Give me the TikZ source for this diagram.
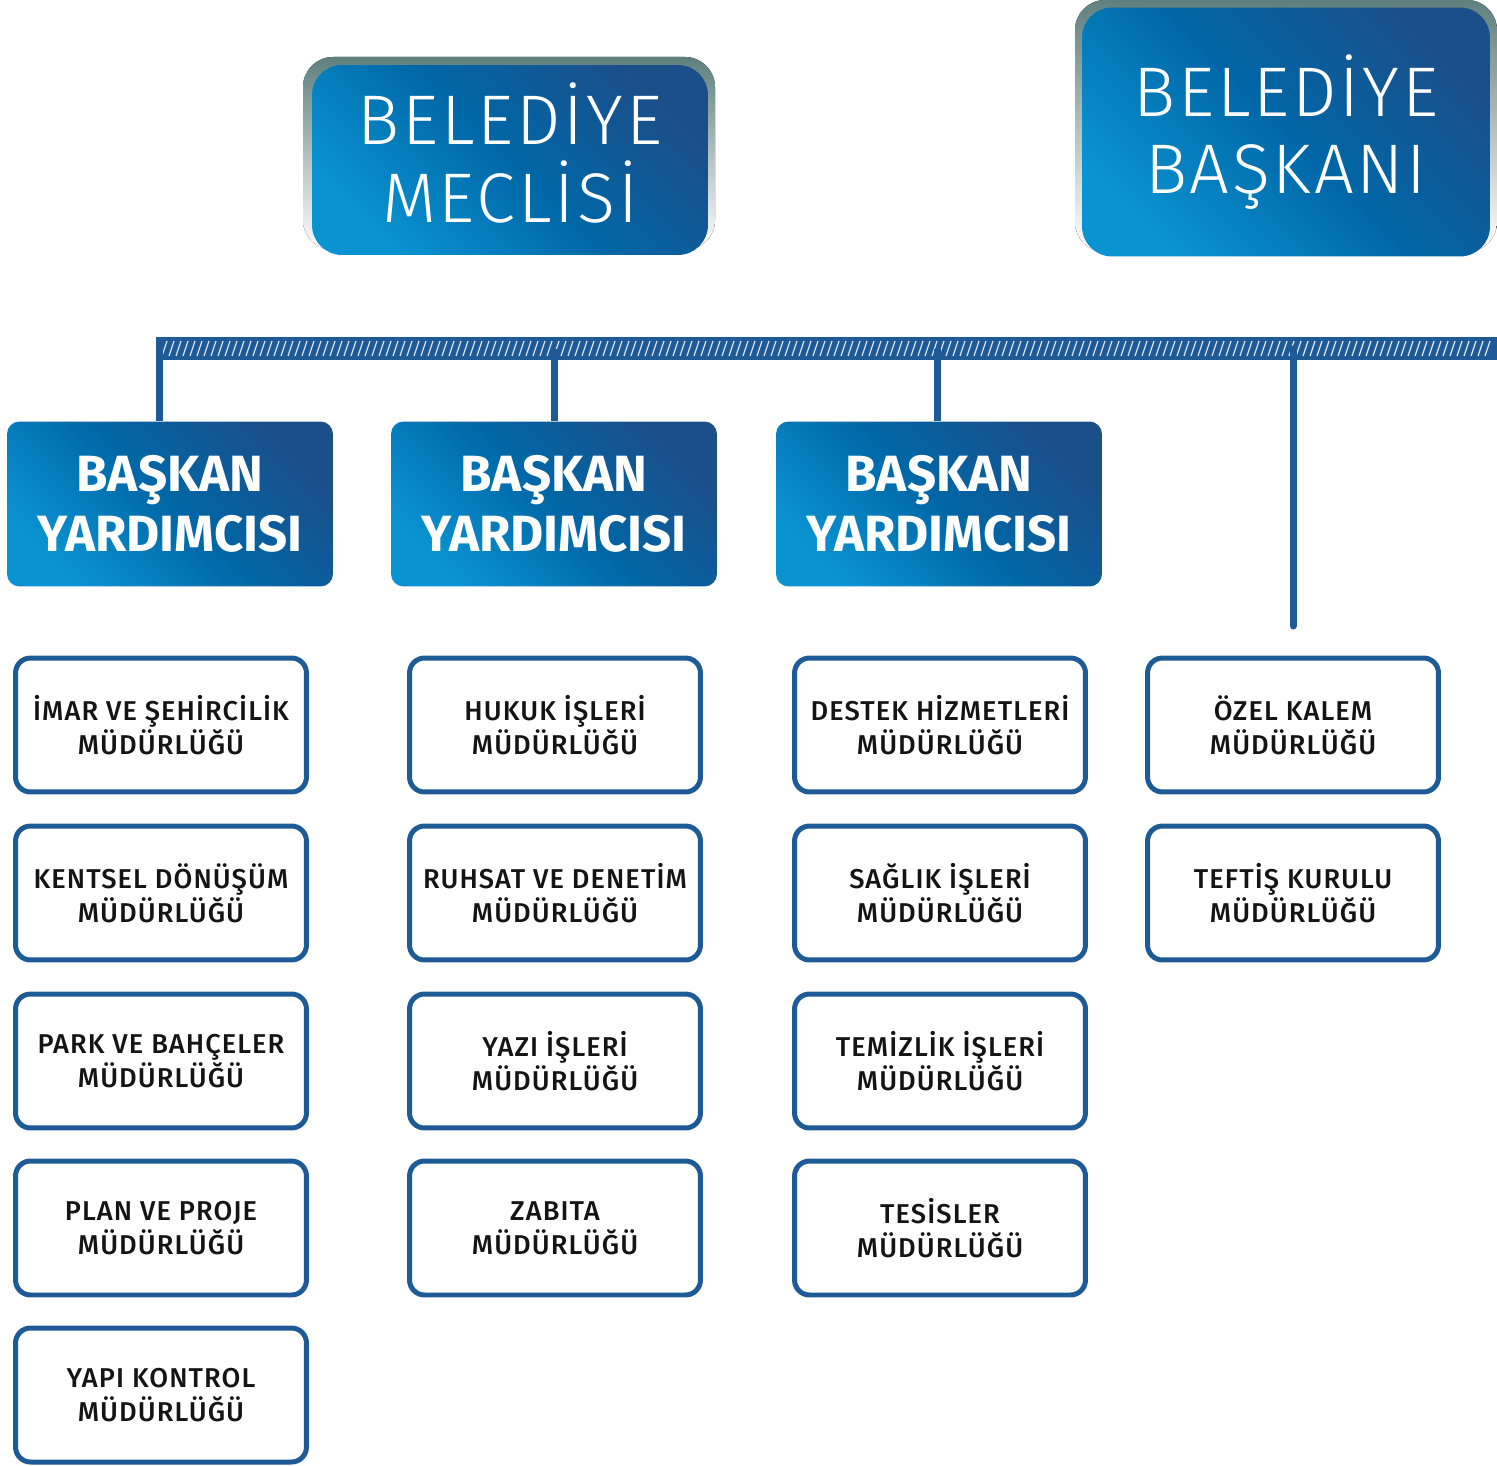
\documentclass[tikz,border=0pt]{standalone}
\usepackage{fontspec}
\setmainfont{Fira Sans}
\newfontfamily\incefont{Fira Sans Light}[LetterSpace=4]
\newfontfamily\ortafont{Fira Sans Medium}[LetterSpace=4]
\usetikzlibrary{positioning}

\definecolor{koyumavi}{HTML}{1B4F8A}
\definecolor{ortamavi}{HTML}{0067A7}
\definecolor{acikmavi}{HTML}{0A93D1}
\definecolor{cizgimavi}{HTML}{1D5A96}

\tikzset{
    anakutu/.style={rounded corners=0.6cm, top color=koyumavi, bottom color=acikmavi, middle color=ortamavi, shading angle=-45, text=white, align=center, inner sep=0pt, font=\incefont\fontsize{40}{44}\selectfont},
    yardkutu/.style={rounded corners=0.25cm, top color=koyumavi, bottom color=acikmavi, middle color=ortamavi, shading angle=-45, text=white, align=center, inner sep=0pt, minimum width=6.52cm, minimum height=3.3cm, font=\bfseries\fontsize{29}{34}\selectfont},
    birim/.style={draw=cizgimavi, line width=0.1cm, rounded corners=0.3cm, fill=white, align=center, inner sep=0pt, minimum width=5.82cm, minimum height=2.68cm, text=black!92, font=\ortafont\fontsize{15.5}{19.3}\selectfont},
    hat/.style={draw=cizgimavi, line width=0.14cm},
    kenar/.style={rounded corners=0.6cm, top color=gray!75!teal, bottom color=white}
}

\begin{document}
\begin{tikzpicture}[x=0.02cm, y=-0.02cm]
    \useasboundingbox (0,0) rectangle (1497,1466);

    % ust kutular
    \fill[kenar] (303,57) rectangle (715,250);
    \fill[kenar] (1075,0) rectangle (1497,252);
    \node[anakutu, minimum width=7.92cm, minimum height=3.8cm, text depth=0.3cm] (meclis) at (510,160) {BELED\.IYE\\MECL\.IS\.I};
    \node[anakutu, minimum width=8.16cm, minimum height=4.98cm] (baskan) at (1286,132) {BELED\.IYE\\BAŞKANI};

    % yatay hat
    \node[fill=cizgimavi, inner sep=0pt, minimum width=26.82cm, minimum height=0.46cm, anchor=north west] (hat) at (156,337) {};
    \foreach \x in {162,169,...,1490}
        \draw[white, line width=0.7pt, opacity=0.85] (\x,356) -- (\x+5,341);

    % baskan yardimcilari
    \node[yardkutu] (yard1) at (170,504) {BAŞKAN\\YARDIMCISI};
    \node[yardkutu] (yard2) at (554,504) {BAŞKAN\\YARDIMCISI};
    \node[yardkutu] (yard3) at (939,504) {BAŞKAN\\YARDIMCISI};
    \coordinate (ucnokta) at (1293,626);

    \draw[hat] ([xshift=0.07cm]hat.west) -- ([xshift=0.07cm]hat.west |- yard1.north);
    \draw[hat] (hat.center -| yard2.north) -- (yard2.north);
    \draw[hat] ([xshift=-0.04cm]hat.center -| yard3.north) -- ([xshift=-0.04cm]yard3.north);
    \draw[hat, line cap=round] (hat.center -| ucnokta) -- (ucnokta);

    % mudurlukler
    \node[birim] (imar) at (161,725) {\.IMAR VE ŞEH\.IRC\.IL\.IK\\MÜDÜRLÜĞÜ};
    \node[birim] (kentsel) at (161,893) {KENTSEL DÖNÜŞÜM\\MÜDÜRLÜĞÜ};
    \node[birim] (park) at (161,1061) {PARK VE BAHÇELER\\MÜDÜRLÜĞÜ};
    \node[birim] (plan) at (161,1228) {PLAN VE PROJE\\MÜDÜRLÜĞÜ};
    \node[birim] (yapi) at (161,1395) {YAPI KONTROL\\MÜDÜRLÜĞÜ};

    \node[birim] (hukuk) at (555,725) {HUKUK \.IŞLER\.I\\MÜDÜRLÜĞÜ};
    \node[birim] (ruhsat) at (555,893) {RUHSAT VE DENET\.IM\\MÜDÜRLÜĞÜ};
    \node[birim] (yazi) at (555,1061) {YAZI \.IŞLER\.I\\MÜDÜRLÜĞÜ};
    \node[birim] (zabita) at (555,1228) {ZABITA\\MÜDÜRLÜĞÜ};

    \node[birim] (destek) at (940,725) {DESTEK H\.IZMETLER\.I\\MÜDÜRLÜĞÜ};
    \node[birim] (saglik) at (940,893) {SAĞLIK \.IŞLER\.I\\MÜDÜRLÜĞÜ};
    \node[birim] (temizlik) at (940,1061) {TEM\.IZL\.IK \.IŞLER\.I\\MÜDÜRLÜĞÜ};
    \node[birim] (tesisler) at (940,1228) {TES\.ISLER\\MÜDÜRLÜĞÜ};

    \node[birim] (ozel) at (1293,725) {ÖZEL KALEM\\MÜDÜRLÜĞÜ};
    \node[birim] (teftis) at (1293,893) {TEFT\.IŞ KURULU\\MÜDÜRLÜĞÜ};
\end{tikzpicture}
\end{document}
